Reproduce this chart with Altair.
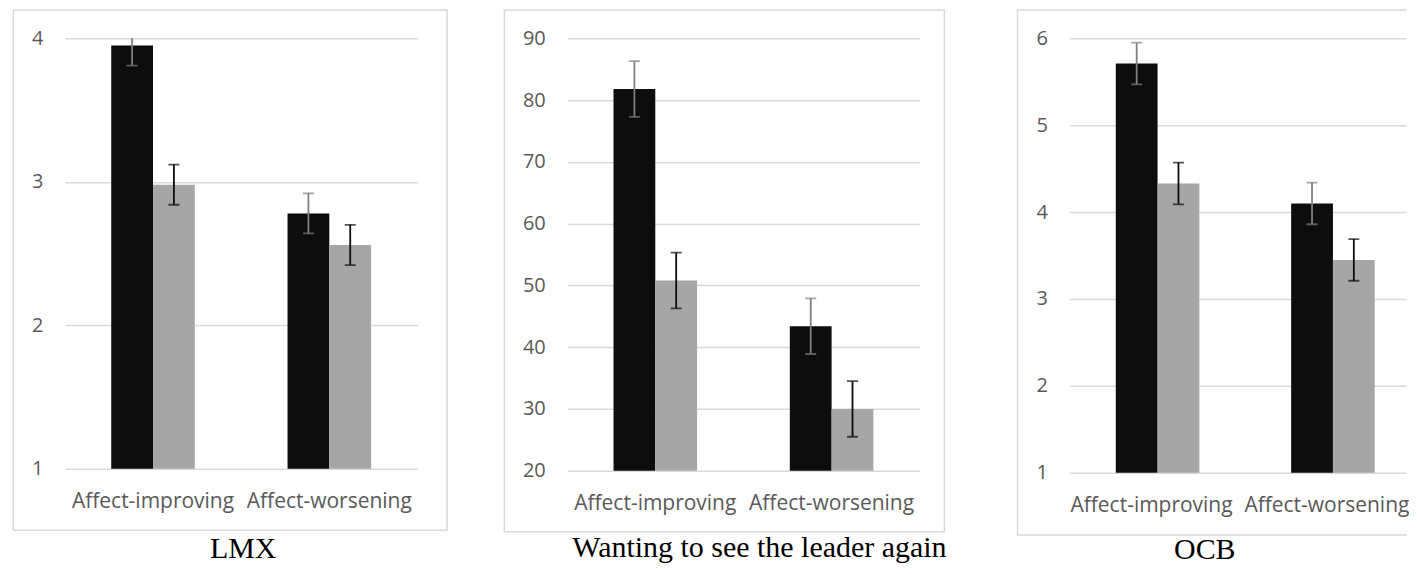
import altair as alt
import pandas as pd

categories = ["Affect-improving", "Affect-worsening"]
series = ["first", "second"]
panel_titles = ["LMX", "Wanting to see the leader again", "OCB"]

lmx_first = [3.95, 2.78]
lmx_second = [2.98, 2.56]
lmx_err_first = [0.14, 0.14]
lmx_err_second = [0.14, 0.14]
lmx_ticks = [1, 2, 3, 4]

want_first = [81.8, 43.4]
want_second = [50.8, 30.0]
want_err_first = [4.5, 4.5]
want_err_second = [4.5, 4.5]
want_ticks = [20, 30, 40, 50, 60, 70, 80, 90]

ocb_first = [5.71, 4.10]
ocb_second = [4.33, 3.45]
ocb_err_first = [0.24, 0.24]
ocb_err_second = [0.24, 0.24]
ocb_ticks = [1, 2, 3, 4, 5, 6]

bar_colors = ["#0d0d0d", "#a6a6a6"]
err_colors = ["#7f7f7f", "#0d0d0d"]
GRID = "#d9d9d9"
LABEL = "#595959"
FONT = "Open Sans"


def make_df(first, second, err_first, err_second):
    rows = []
    for s, vals, errs in [(series[0], first, err_first), (series[1], second, err_second)]:
        for c, v, e in zip(categories, vals, errs):
            rows.append({"category": c, "series": s, "value": v, "lo": v - e, "hi": v + e})
    return pd.DataFrame(rows)


def panel(df, ticks, title, width, height, pin, pout, align, box, title_offset, title_dx,
          full_box=True, label_offset=0):
    base = alt.Chart(df)
    x = alt.X("category:N", sort=categories,
              scale=alt.Scale(paddingInner=pin, paddingOuter=pout, align=align),
              axis=alt.Axis(title=None, labelAngle=0, domain=False, ticks=False, tickSize=0,
                            labelPadding=22, labelFont=FONT, labelFontSize=21,
                            labelOffset=label_offset,
                            labelColor=LABEL, labelOverlap=False, grid=False))
    xo = alt.XOffset("series:N", sort=series, scale=alt.Scale(paddingInner=0, paddingOuter=0))
    yscale = alt.Scale(domain=[ticks[0], ticks[-1]], nice=False, zero=False)
    y = alt.Y("value:Q", scale=yscale, title=None,
              axis=alt.Axis(values=ticks, format="d", grid=True, gridColor=GRID, gridWidth=1.5,
                            domain=False, ticks=False, tickSize=0, labelPadding=22,
                            labelFont=FONT, labelFontSize=20, labelColor=LABEL))
    bars = base.mark_bar().encode(
        x=x, xOffset=xo, y=y, y2=alt.datum(ticks[0]),
        fill=alt.Fill("series:N", scale=alt.Scale(domain=series, range=bar_colors), legend=None),
    )
    layers = [bars]
    for s, col in zip(series, err_colors):
        rule = base.mark_rule(clip=True, color=col, strokeWidth=1.8).encode(
            x=x, xOffset=xo, y=alt.Y("lo:Q", scale=yscale, title=None), y2="hi:Q"
        ).transform_filter(alt.datum.series == s)
        caps = base.transform_filter(alt.datum.series == s).transform_fold(
            ["lo", "hi"], as_=["end", "endval"]
        ).mark_tick(clip=True, color=col, thickness=1.8, size=11).encode(
            x=x, xOffset=xo, y=alt.Y("endval:Q", scale=yscale, title=None)
        )
        layers += [rule, caps]
    one = alt.Chart(pd.DataFrame({"k": [0]}))
    l, r, t, b = box
    if full_box:
        border = one.mark_rect(fillOpacity=0, stroke=GRID, strokeWidth=1.5).encode(
            x=alt.value(l), x2=alt.value(width + r), y=alt.value(t), y2=alt.value(height + b)
        )
        layers = [border] + layers
    else:
        top = one.mark_rule(stroke=GRID, strokeWidth=1.5, strokeCap="square").encode(
            x=alt.value(l), x2=alt.value(width), y=alt.value(t))
        bot = one.mark_rule(stroke=GRID, strokeWidth=1.5, strokeCap="square").encode(
            x=alt.value(l), x2=alt.value(width), y=alt.value(height + b))
        left = one.mark_rule(stroke=GRID, strokeWidth=1.5, strokeCap="square").encode(
            x=alt.value(l), y=alt.value(t), y2=alt.value(height + b))
        layers = [top, bot, left] + layers
    return alt.layer(*layers).properties(
        width=width, height=height,
        title=alt.TitleParams(text=title, orient="bottom", anchor="middle", frame="group",
                              font="Liberation Serif", fontSize=30, fontWeight="normal",
                              color="black", offset=title_offset, dx=title_dx),
    )


p1 = panel(make_df(lmx_first, lmx_second, lmx_err_first, lmx_err_second), lmx_ticks,
           panel_titles[0], 353, 431, 0.526, 0.2626, 0.5, (-51.6, 29.7, -28.5, 61.6), 3.4, 2)
p2 = panel(make_df(want_first, want_second, want_err_first, want_err_second), want_ticks,
           panel_titles[1], 353, 433, 0.526, 0.2626, 0.5, (-63, 24.7, -28.5, 61), 1.0, 16)
p3 = panel(make_df(ocb_first, ocb_second, ocb_err_first, ocb_err_second), ocb_ticks,
           panel_titles[2], 337, 435, 0.524, 0.2215, 0.596, (-52, 0, -28.5, 62.3), -1.3, -33,
           full_box=False, label_offset=-6)

chart = alt.hconcat(p1, p2, p3, spacing=150, bounds="flush").properties(
    padding={"left": 4, "top": 0, "right": 0, "bottom": 1}
).configure_view(strokeWidth=0)

chart.save("out.html", embed_options={"renderer": "svg", "actions": False})
